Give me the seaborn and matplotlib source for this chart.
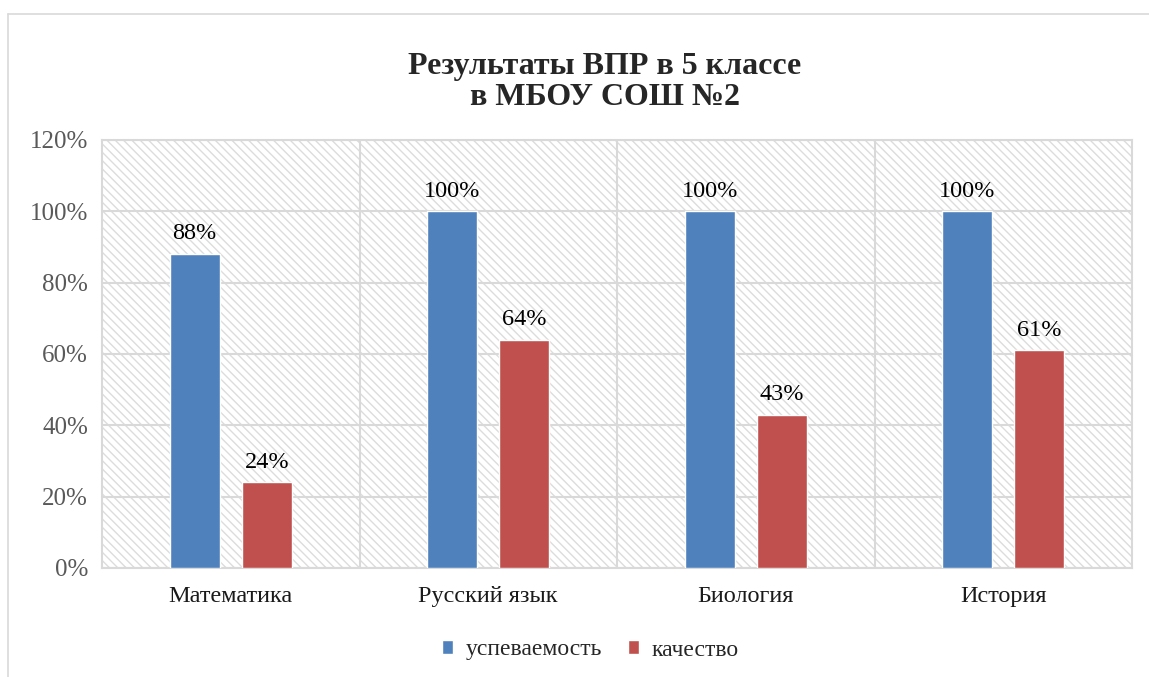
import matplotlib
matplotlib.use("Agg")
import matplotlib.pyplot as plt
import seaborn as sns
import pandas as pd
from matplotlib.patches import Rectangle
from matplotlib.lines import Line2D
from matplotlib.ticker import FixedLocator

# данные
subjects = ["Математика", "Русский язык", "Биология", "История"]
uspevaemost = [88, 100, 100, 100]
kachestvo = [24, 64, 43, 61]
series_names = ["успеваемость", "качество"]
colors = ["#4F81BD", "#C0504D"]
y_ticks = [0, 20, 40, 60, 80, 100, 120]

df = pd.DataFrame({
    "subject": subjects * 2,
    "value": uspevaemost + kachestvo,
    "series": [series_names[0]] * 4 + [series_names[1]] * 4,
})

sns.set_style("white")
plt.rcParams["font.family"] = ["Liberation Serif", "DejaVu Serif"]
plt.rcParams["hatch.linewidth"] = 1.0

fig = plt.figure(figsize=(11.49, 6.77), dpi=100)
ax = fig.add_axes([102 / 1149, 1 - 568 / 677, 1030 / 1149, 428 / 677])

# фон с диагональной штриховкой
bg = Rectangle((0, 0), 1, 1, transform=ax.transAxes, facecolor="white",
               edgecolor="#dcdcdc", hatch="\\\\\\\\", linewidth=0, zorder=0)
ax.add_patch(bg)

sns.barplot(data=df, x="subject", y="value", hue="series", palette=colors,
            width=0.56, gap=0.31, saturation=1, ax=ax, zorder=3)

for cont in ax.containers:
    ax.bar_label(cont, labels=[f"{v:.0f}%" for v in cont.datavalues],
                 padding=7, fontsize=17.5, color="black")

ax.set_ylim(0, 120)
ax.set_xlim(-0.5, 3.5)
ax.set_yticks(y_ticks)
ax.set_yticklabels([f"{t}%" for t in y_ticks])
ax.xaxis.set_minor_locator(FixedLocator([0.5, 1.5, 2.5]))
ax.grid(axis="y", color="#d9d9d9", linewidth=1.5, zorder=1)
ax.grid(axis="x", which="minor", color="#d9d9d9", linewidth=1.5, zorder=1)
ax.grid(axis="x", which="major", visible=False)
ax.set_axisbelow(True)
ax.tick_params(axis="y", labelsize=18, labelcolor="#595959", length=0, pad=10)
ax.tick_params(axis="x", labelsize=17.5, labelcolor="#1a1a1a", length=0, pad=13)
ax.tick_params(which="minor", length=0)
ax.set_xlabel("")
ax.set_ylabel("")
for s in ax.spines.values():
    s.set_color("#d9d9d9")
    s.set_linewidth(1.5)

handles, labels = ax.get_legend_handles_labels()
ax.get_legend().remove()
fig.legend(handles, labels, loc="center", bbox_to_anchor=(590 / 1149, 1 - 650 / 677),
           ncol=2, frameon=False, fontsize=17, handlelength=0.5, handleheight=0.5,
           handletextpad=0.5, columnspacing=1.1)

fig.text(605 / 1149, 1 - 82 / 677, "Результаты ВПР в 5 классе\nв МБОУ СОШ №2",
         ha="center", va="center", fontsize=23, fontweight="bold", linespacing=1.1)

# рамка диаграммы
fig.add_artist(Line2D([8 / 1149, 8 / 1149], [0, 1 - 14 / 677],
                      transform=fig.transFigure, color="#d9d9d9", linewidth=1.2))
fig.add_artist(Line2D([8 / 1149, 1], [1 - 14 / 677, 1 - 14 / 677],
                      transform=fig.transFigure, color="#d9d9d9", linewidth=1.2))

fig.savefig("out.png", dpi=100)
